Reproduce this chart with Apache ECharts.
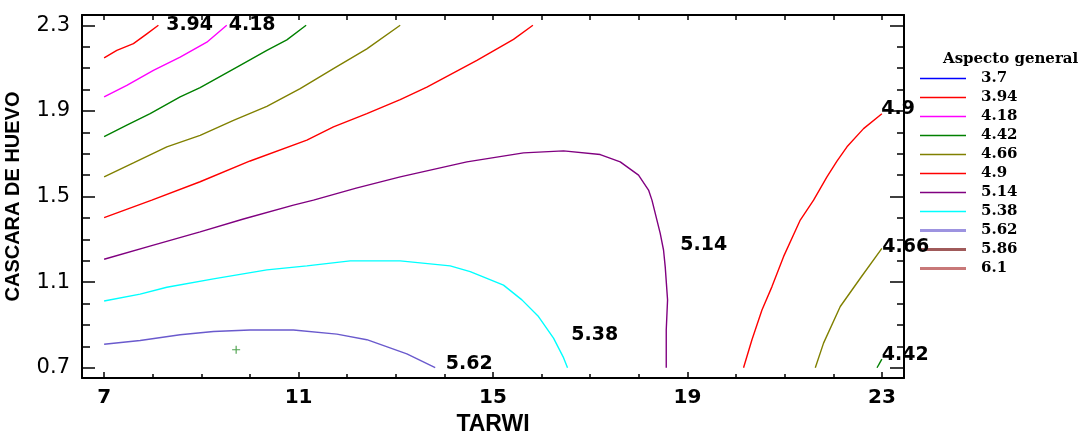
<!DOCTYPE html>
<html>
<head>
<meta charset="utf-8">
<script src="https://cdn.jsdelivr.net/npm/echarts@6/dist/echarts.min.js"></script>
<style>
  html, body { margin: 0; padding: 0; background: #fff; }
  #chart { width: 1084px; height: 432px; }
</style>
</head>
<body>
<div id="chart"></div>
<script>
// contour levels shown in the legend
const levels = ['3.7', '3.94', '4.18', '4.42', '4.66', '4.9', '5.14', '5.38', '5.62', '5.86', '6.1'];
const levelColors = ['#0000ff', '#ff0000', '#ff00ff', '#008000', '#808000', '#ff0000', '#800080', '#00ffff', '#6a5acd', '#a05a5a', '#c87878'];
const legendColors = ['#0000ff', '#ff0000', '#ff00ff', '#008000', '#808000', '#ff0000', '#800080', '#00ffff', '#9d93e0', '#a05a5a', '#c87878'];

// contour paths [TARWI, CASCARA DE HUEVO]
const c394 = [[7, 2.148], [7.261, 2.183], [7.603, 2.214], [7.879, 2.260], [8.117, 2.3]];
const c418 = [[7, 1.965], [7.467, 2.019], [8.014, 2.089], [8.564, 2.151], [9.113, 2.221], [9.523, 2.3]];
const c442a = [[7, 1.780], [7.467, 1.833], [7.947, 1.887], [8.564, 1.965], [8.975, 2.009], [9.798, 2.113], [10.348, 2.183], [10.759, 2.232], [11.156, 2.3]];
const c442b = [[22.9, 0.7], [23, 0.74]];
const c466a = [[7, 1.592], [7.603, 1.657], [8.290, 1.732], [8.975, 1.786], [9.661, 1.856], [10.348, 1.921], [11.033, 2.004], [11.718, 2.097], [12.405, 2.190], [13.091, 2.3]];
const c466b = [[21.630, 0.7], [21.800, 0.815], [22.144, 0.986], [22.556, 1.118], [23, 1.258]];
const c49a = [[7, 1.401], [7.981, 1.483], [8.975, 1.569], [10.004, 1.666], [11.171, 1.763], [11.718, 1.825], [12.405, 1.887], [13.091, 1.953], [13.640, 2.011], [14.669, 2.136], [15.422, 2.234], [15.821, 2.3]];
const c49b = [[20.154, 0.7], [20.327, 0.831], [20.533, 0.970], [20.739, 1.079], [20.977, 1.219], [21.321, 1.390], [21.595, 1.483], [21.870, 1.592], [22.076, 1.665], [22.282, 1.732], [22.623, 1.817], [23, 1.887]];
const c514 = [[7, 1.207], [8.014, 1.273], [8.975, 1.335], [9.866, 1.395], [10.895, 1.460], [11.307, 1.483], [12.185, 1.539], [13.091, 1.592], [14.463, 1.662], [15.628, 1.704], [16.451, 1.713], [17.206, 1.696], [17.617, 1.662], [17.994, 1.600], [18.200, 1.530], [18.270, 1.483], [18.440, 1.328], [18.508, 1.250], [18.543, 1.171], [18.591, 1.017], [18.564, 0.877], [18.564, 0.7]];
const c538 = [[7, 1.012], [7.741, 1.044], [8.290, 1.076], [9.249, 1.115], [10.348, 1.157], [11.171, 1.176], [12.062, 1.199], [13.091, 1.199], [14.119, 1.176], [14.531, 1.149], [15.216, 1.086], [15.595, 1.017], [15.936, 0.939], [16.245, 0.838], [16.451, 0.747], [16.533, 0.7]];
const c562 = [[7, 0.810], [7.741, 0.827], [8.564, 0.854], [9.249, 0.869], [10.004, 0.876], [10.895, 0.876], [11.788, 0.857], [12.405, 0.831], [13.228, 0.765], [13.811, 0.7]];

// level labels written on the plot
const labelText = ['3.94', '4.18', '4.9', '4.66', '4.42', '5.14', '5.38', '5.62'];
const labelX = [8.759, 10.045, 23.333, 23.492, 23.481, 19.335, 17.093, 14.510];
const labelY = [2.3, 2.3, 1.907, 1.266, 0.761, 1.271, 0.852, 0.719];

// optimum marker
const optimum = [[9.716, 0.784]];

// ticks
const xMajor = [7, 11, 15, 19, 23];
const xMinor = [8, 9, 10, 12, 13, 14, 16, 17, 18, 20, 21, 22];
const yMajor = [0.7, 1.1, 1.5, 1.9, 2.3];
const yMinor = [0.8, 0.9, 1.0, 1.2, 1.3, 1.4, 1.6, 1.7, 1.8, 2.0, 2.1, 2.2];

const contours = [
    ['3.94', c394], ['4.18', c418], ['4.42', c442a], ['4.42', c442b],
    ['4.66', c466a], ['4.66', c466b], ['4.9', c49a], ['4.9', c49b],
    ['5.14', c514], ['5.38', c538], ['5.62', c562],
    ['3.7', []], ['5.86', []], ['6.1', []]
];

const chart = echarts.init(document.getElementById('chart'), null, { renderer: 'canvas' });

const X_MIN = 6.545, X_MAX = 23.455, Y_MIN = 0.652, Y_MAX = 2.348;
const frameLine = { show: true, onZero: false, lineStyle: { color: '#000', width: 2 } };

function xAxisDef(position, ticks, len, line, labels) {
    return {
        type: 'value', position: position, min: X_MIN, max: X_MAX,
        axisLine: line ? frameLine : { show: false },
        axisTick: { show: true, inside: true, length: len, customValues: ticks, lineStyle: { color: '#000', width: 1.5 } },
        axisLabel: labels ? {
            show: true, customValues: ticks, margin: 10,
            fontFamily: 'DejaVu Sans', fontWeight: 'bold', fontSize: 20, color: '#000'
        } : { show: false },
        splitLine: { show: false }
    };
}
function yAxisDef(position, ticks, len, line, labels) {
    return {
        type: 'value', position: position, min: Y_MIN, max: Y_MAX,
        axisLine: line ? frameLine : { show: false },
        axisTick: { show: true, inside: true, length: len, customValues: ticks, lineStyle: { color: '#000', width: 1.5 } },
        axisLabel: labels ? {
            show: true, customValues: ticks, margin: 12,
            fontFamily: 'DejaVu Sans', fontSize: 21, color: '#000'
        } : { show: false },
        splitLine: { show: false }
    };
}

const xBottom = xAxisDef('bottom', xMajor, 6, true, true);
xBottom.name = 'TARWI';
xBottom.nameLocation = 'middle';
xBottom.nameGap = 34;
xBottom.nameTextStyle = { fontFamily: 'Liberation Sans', fontWeight: 'bold', fontSize: 23, color: '#000' };

const yLeft = yAxisDef('left', yMajor, 13, true, true);
yLeft.name = 'CASCARA DE HUEVO';
yLeft.nameLocation = 'middle';
yLeft.nameGap = 59;
yLeft.nameTextStyle = { fontFamily: 'Liberation Sans', fontWeight: 'bold', fontSize: 20, color: '#000' };

const series = contours.map(([name, data]) => ({
    type: 'line',
    name: name,
    data: data,
    xAxisIndex: 0,
    yAxisIndex: 0,
    symbol: 'none',
    showSymbol: false,
    silent: true,
    lineStyle: { color: levelColors[levels.indexOf(name)], width: 1.4 },
    itemStyle: { color: levelColors[levels.indexOf(name)] },
    z: 3
}));

series.push({
    type: 'scatter',
    name: 'optimum',
    data: optimum,
    symbol: 'path://M3,0H4V7H3Z M0,3H7V4H0Z',
    symbolSize: 8,
    itemStyle: { color: '#228b22' },
    silent: true,
    z: 4
});

series.push({
    type: 'scatter',
    name: 'labels',
    data: labelText.map((t, i) => [labelX[i], labelY[i], t]),
    symbol: 'circle',
    symbolSize: 1,
    clip: false,
    itemStyle: { opacity: 0 },
    label: {
        show: true, position: 'inside', opacity: 1,
        formatter: p => p.data[2],
        fontFamily: 'DejaVu Sans', fontWeight: 'bold', fontSize: 19,
        color: '#000', textBorderWidth: 0
    },
    silent: true,
    z: 10
});

const option = {
    animation: false,
    backgroundColor: '#fff',
    title: {
        text: 'Aspecto general',
        left: 943, top: 52, padding: 0,
        textStyle: { fontFamily: 'DejaVu Serif', fontWeight: 'bold', fontSize: 15, lineHeight: 15, color: '#000' }
    },
    legend: {
        orient: 'vertical',
        left: 920, top: 71, padding: 0,
        itemWidth: 46, itemHeight: 15, itemGap: 4,
        selectedMode: false,
        symbolKeepAspect: true,
        itemStyle: { borderWidth: 0 },
        data: levels.map((name, i) => ({
            name: name,
            icon: i >= 8 ? 'path://M0,0H46V3H0Z' : 'path://M0,0H46V1.4H0Z',
            itemStyle: { color: legendColors[i], borderWidth: 0 }
        })),
        textStyle: {
            fontFamily: 'DejaVu Serif', fontWeight: 'bold', fontSize: 15, lineHeight: 15,
            color: '#000', padding: [0, 0, 0, 10]
        }
    },
    grid: { left: 82, right: 180, top: 15, bottom: 54, containLabel: false, outerBoundsMode: 'none' },
    xAxis: [
        xBottom,
        xAxisDef('bottom', xMinor, 4, false, false),
        xAxisDef('top', xMajor.concat(xMinor), 5, true, false)
    ],
    yAxis: [
        yLeft,
        yAxisDef('left', yMinor, 8, false, false),
        yAxisDef('right', yMajor, 14, true, false),
        yAxisDef('right', yMinor, 7, false, false)
    ],
    series: series
};

chart.setOption(option);
</script>
</body>
</html>
